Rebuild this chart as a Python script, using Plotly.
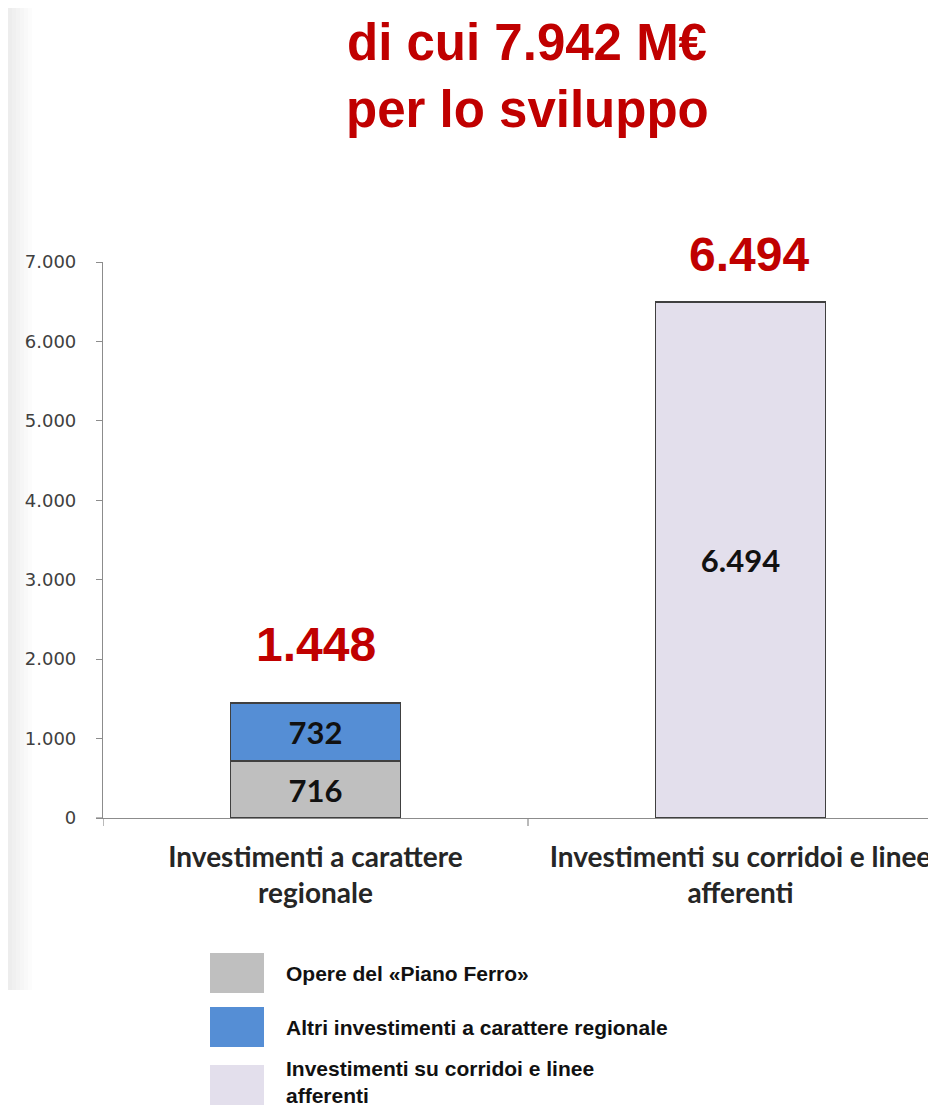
import plotly.graph_objects as go

# ---- data ----
categories = ["Investimenti a carattere<br>regionale",
              "Investimenti su corridoi e linee<br>afferenti"]
series_names = ["Opere del «Piano Ferro»",
                "Altri investimenti a carattere regionale",
                "Investimenti su corridoi e linee<br>afferenti"]
piano_ferro = [716, None]
altri_regionali = [732, None]
corridoi = [None, 6494]
y_ticks = [0, 1000, 2000, 3000, 4000, 5000, 6000, 7000]
title_lines = ["di cui 7.942 M€", "per lo sviluppo"]

colors = ["#bfbfbf", "#558ed5", "#e3dfec"]
series = [piano_ferro, altri_regionali, corridoi]

# page body has an 8px margin: work in screen pixels and convert
OFF = 8
W, H = 936 - OFF, 1106 - OFF
L, R, T, B = 103 - OFF, 0, 262 - OFF, 288
PW, PH = W - L - R, H - T - B


def px(x):  # screen x -> paper
    return (x - OFF - L) / PW


def py(y):  # screen y -> paper
    return (H - B - (y - OFF)) / PH


fig = go.Figure()
for name, vals, col in zip(series_names, series, colors):
    fig.add_trace(go.Bar(
        x=[0, 1], y=vals, name=name,
        marker=dict(color=col, line=dict(color="#404040", width=1.5)),
        width=0.4,
        texttemplate="<b>%{y:,}</b>", textposition="inside",
        insidetextanchor="middle", constraintext="none",
        textfont=dict(family="Lato", size=31, color="#111111"),
        showlegend=False,
    ))

totals = [sum(v[i] or 0 for v in series) for i in range(2)]
shifts = [30, 19]
xshifts = [0, 8]
for i, t in enumerate(totals):
    fig.add_annotation(x=i, y=t, text=f"<b>{t:,}</b>".replace(",", "."),
                       showarrow=False, xanchor="center", yanchor="bottom",
                       yshift=shifts[i], xshift=xshifts[i],
                       font=dict(family="Liberation Sans", size=48, color="#c00000"))

for line, yy in zip(title_lines, [42, 110]):
    fig.add_annotation(xref="paper", yref="paper", x=px(527), y=py(yy),
                       text="<b>" + line + "</b>", showarrow=False,
                       xanchor="center", yanchor="middle",
                       font=dict(family="Liberation Sans", size=51, color="#c00000"))

# legend drawn manually with large swatches
sw_tops = [953, 1007, 1065]
txt_y = [973, 1027, 1082]
for name, col, top, ty in zip(series_names, colors, sw_tops, txt_y):
    fig.add_shape(type="rect", xref="paper", yref="paper",
                  x0=px(210), x1=px(264), y0=py(top), y1=py(top + 40),
                  fillcolor=col, line=dict(width=0))
    fig.add_annotation(xref="paper", yref="paper", x=px(284), y=py(ty),
                       text="<b>" + name + "</b>", showarrow=False,
                       xanchor="left", yanchor="middle", align="left",
                       font=dict(family="Liberation Sans", size=21, color="#111111"))

# subtle gray shading on the left edge
for k in range(6):
    fig.add_shape(type="rect", xref="paper", yref="paper",
                  x0=px(OFF), x1=px(12 + k * 4), y0=py(990), y1=py(OFF),
                  fillcolor="#000000", opacity=0.013, line=dict(width=0), layer="below")

fig.update_layout(
    width=W, height=H, barmode="stack",
    margin=dict(l=L, r=R, t=T, b=B),
    paper_bgcolor="white", plot_bgcolor="white",
    separators=",.",
    xaxis=dict(range=[-0.5, 1.46], tickmode="array", tickvals=[0, 1],
               ticktext=["<b>" + c + "</b>" for c in categories],
               showline=True, linecolor="#8c8c8c", linewidth=1.2,
               ticks="", showgrid=False, zeroline=False,
               ticklabelstandoff=14,
               tickfont=dict(family="Lato", size=28, color="#262626")),
    yaxis=dict(range=[0, 7000], tickvals=y_ticks, tickformat=",d",
               showline=True, linecolor="#8c8c8c", linewidth=1.2,
               ticks="outside", ticklen=6, tickcolor="#8c8c8c",
               showgrid=False, zeroline=False, ticklabelstandoff=16,
               tickfont=dict(family="DejaVu Sans", size=18, color="#404040")),
)
# category boundary ticks and short left extension of the x axis line
for xb in [-0.5, 0.5]:
    fig.add_shape(type="line", xref="x", yref="paper", x0=xb, x1=xb,
                  y0=0, y1=-8 / PH, line=dict(color="#8c8c8c", width=1.2))
fig.add_shape(type="line", xref="paper", yref="paper", x0=px(96), x1=0,
              y0=0, y1=0, line=dict(color="#8c8c8c", width=1.2))

fig.write_html("out.html")
